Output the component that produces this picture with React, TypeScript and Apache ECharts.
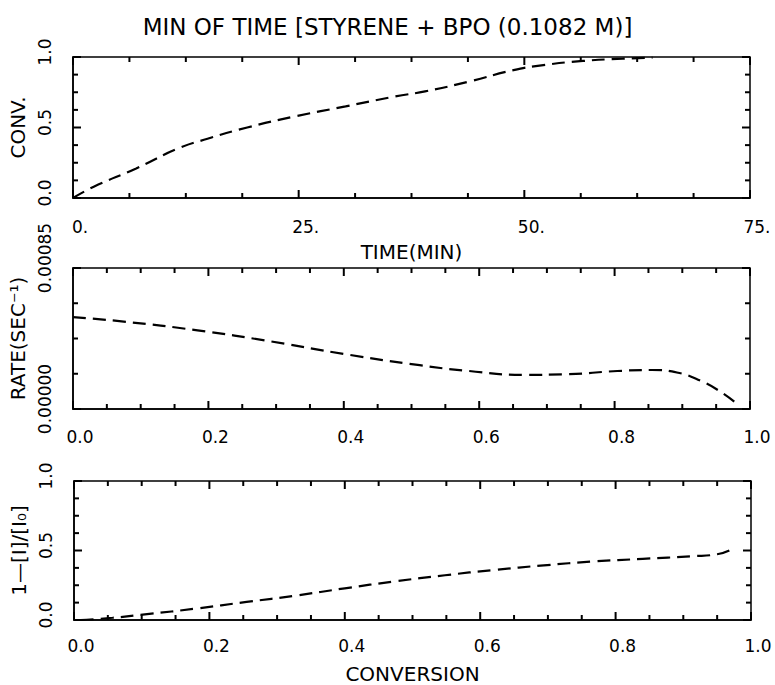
import React, { useEffect, useRef } from "react";
import * as echarts from "echarts";

// Panel 1: conversion vs time
const timeMin = [0, 2.3, 7, 11.6, 14.9, 19.3, 24.7, 30.2, 35.7, 39, 43.9, 48.8, 52.1, 56.5, 60.9, 64.2];
const convVsTime = [0, 0.08, 0.21, 0.35, 0.42, 0.5, 0.58, 0.65, 0.72, 0.756, 0.826, 0.907, 0.942, 0.972, 0.988, 0.995];

// Panel 2: rate vs conversion
const convRate = [0, 0.075, 0.184, 0.293, 0.403, 0.512, 0.585, 0.666, 0.731, 0.804, 0.855, 0.892, 0.928, 0.958, 0.978];
const rateSec = [0.000554, 0.000527, 0.000474, 0.000407, 0.00033, 0.000264, 0.000229, 0.000206, 0.00021, 0.000229, 0.000235, 0.00022, 0.000168, 0.0001, 0.00004];

// Panel 3: 1-[I]/[I0] vs conversion
const convInit = [0.01, 0.057, 0.108, 0.18, 0.255, 0.328, 0.4, 0.474, 0.548, 0.62, 0.694, 0.767, 0.84, 0.914, 0.95, 0.968];
const initConsumed = [0, 0.016, 0.042, 0.082, 0.13, 0.176, 0.228, 0.278, 0.322, 0.36, 0.393, 0.421, 0.44, 0.459, 0.473, 0.5];

const titleText = "MIN OF TIME [STYRENE + BPO (0.1082 M)]";
const xName1 = "TIME(MIN)";
const xName3 = "CONVERSION";
const yName1 = "CONV.";
const yName2 = "RATE(SEC\u207B\u00B9)";
const yName3 = "1\u2014[I]/[I\u2080]";

// Axis ranges: [min, max, labelled (major) interval]
const xRanges = [[0, 75, 25], [0, 1, 0.2], [0, 1, 0.2]];
const yRanges = [[0, 1, 0.5], [0, 0.00085, 0.00085], [0, 1, 0.5]];
const MINOR_SPLIT = 4;

const FONT = "DejaVu Sans";
const BLACK = "#000";
const MAJOR_LEN = 8;
const MINOR_LEN = 5;

// sides: 0 bottom, 1 top, 2 left, 3 right  -> items [value, side, length]
function tickItems(xr: number[], yr: number[]) {
  const out: number[][] = [];
  const add = (r: number[], sides: number[]) => {
    const step = r[2] / MINOR_SPLIT;
    const n = Math.round((r[1] - r[0]) / step);
    for (let k = 0; k <= n; k++) {
      const v = r[0] + k * step;
      const len = k % MINOR_SPLIT === 0 ? MAJOR_LEN : MINOR_LEN;
      sides.forEach((s) => out.push([v, s, len]));
    }
  };
  add(xr, [0, 1]);
  add(yr, [2, 3]);
  return out;
}

// Inward-pointing frame ticks, placed through the axes' own scales.
function tickSeries(g: number) {
  const xr = xRanges[g];
  const yr = yRanges[g];
  return {
    type: "custom",
    xAxisIndex: g,
    yAxisIndex: g,
    clip: false,
    silent: true,
    z: 5,
    data: tickItems(xr, yr),
    renderItem: (_params: any, api: any) => {
      const v = api.value(0);
      const side = api.value(1);
      const len = api.value(2);
      let p: number[];
      let q: number[];
      if (side === 0) { p = api.coord([v, yr[0]]); q = [p[0], p[1] - len]; }
      else if (side === 1) { p = api.coord([v, yr[1]]); q = [p[0], p[1] + len]; }
      else if (side === 2) { p = api.coord([xr[0], v]); q = [p[0] + len, p[1]]; }
      else { p = api.coord([xr[1], v]); q = [p[0] - len, p[1]]; }
      return {
        type: "line",
        shape: { x1: p[0], y1: p[1], x2: q[0], y2: q[1] },
        style: { stroke: BLACK, lineWidth: 2 },
      };
    },
  };
}

function xAxisFor(g: number, fmt: (v: number) => string, margin: number, name?: string) {
  const r = xRanges[g];
  return {
    type: "value", gridIndex: g, position: "bottom", min: r[0], max: r[1], interval: r[2],
    axisLine: { show: true, onZero: false, lineStyle: { color: BLACK, width: 1.5 } },
    axisTick: { show: false },
    minorTick: { show: false },
    splitLine: { show: false },
    axisLabel: {
      show: true, margin, color: BLACK, fontFamily: FONT, fontSize: 17,
      padding: [0, 0, 0, 14], formatter: fmt,
    },
    name: name || "",
    nameLocation: "middle",
    nameGap: 44,
    nameTextStyle: { color: BLACK, fontFamily: FONT, fontSize: 20 },
  };
}

function yAxisFor(g: number, fmt: (v: number) => string, name: string, shift: number) {
  const r = yRanges[g];
  return {
    type: "value", gridIndex: g, position: "left", min: r[0], max: r[1], interval: r[2],
    axisLine: { show: true, onZero: false, lineStyle: { color: BLACK, width: 1.5 } },
    axisTick: { show: false },
    minorTick: { show: false },
    splitLine: { show: false },
    axisLabel: {
      show: true, rotate: 90, margin: 20, color: BLACK, fontFamily: FONT, fontSize: 17,
      padding: [0, 0, 0, shift], formatter: fmt,
    },
    name,
    nameLocation: "middle",
    nameGap: 42,
    nameTextStyle: { color: BLACK, fontFamily: FONT, fontSize: 20 },
  };
}

function zip(xs: number[], ys: number[]) {
  return xs.map((x, i) => [x, ys[i]]);
}

function dashed() {
  return { color: BLACK, width: 2.2, type: [13, 7] };
}

const gridBox = { show: true, borderColor: BLACK, borderWidth: 1.5, backgroundColor: "transparent" };

export default function App() {
  const ref = useRef<HTMLDivElement>(null);
  useEffect(() => {
    document.body.style.margin = "0";
    if (!ref.current) return;
    const chart = echarts.init(ref.current, undefined, { renderer: "svg" });
    const option: any = {
      animation: false,
      backgroundColor: "#fff",
      title: {
        text: titleText,
        left: "center",
        top: 10,
        textStyle: { color: BLACK, fontFamily: FONT, fontSize: 23, fontWeight: "normal" },
      },
      grid: [
        { left: 73, top: 57, width: 677, height: 141, ...gridBox },
        { left: 73, top: 268, width: 677, height: 141, ...gridBox },
        { left: 74, top: 481, width: 677, height: 141, ...gridBox },
      ],
      xAxis: [
        xAxisFor(0, (v) => `${Math.round(v)}.`, 20, xName1),
        xAxisFor(1, (v) => v.toFixed(1), 19),
        xAxisFor(2, (v) => v.toFixed(1), 17, xName3),
      ],
      yAxis: [
        yAxisFor(0, (v) => v.toFixed(1), yName1, 10),
        yAxisFor(1, (v) => v.toFixed(5), yName2, 20),
        yAxisFor(2, (v) => v.toFixed(1), yName3, 10),
      ],
      series: [
        {
          type: "line", xAxisIndex: 0, yAxisIndex: 0, data: zip(timeMin, convVsTime),
          showSymbol: false, smooth: true, lineStyle: dashed(),
        },
        {
          type: "line", xAxisIndex: 1, yAxisIndex: 1, data: zip(convRate, rateSec),
          showSymbol: false, smooth: true, lineStyle: dashed(),
        },
        {
          type: "line", xAxisIndex: 2, yAxisIndex: 2, data: zip(convInit, initConsumed),
          showSymbol: false, smooth: true, lineStyle: dashed(),
        },
        tickSeries(0),
        tickSeries(1),
        tickSeries(2),
      ],
    };
    chart.setOption(option);
    return () => chart.dispose();
  }, []);
  return <div ref={ref} style={{ width: 775, height: 685 }} />;
}
